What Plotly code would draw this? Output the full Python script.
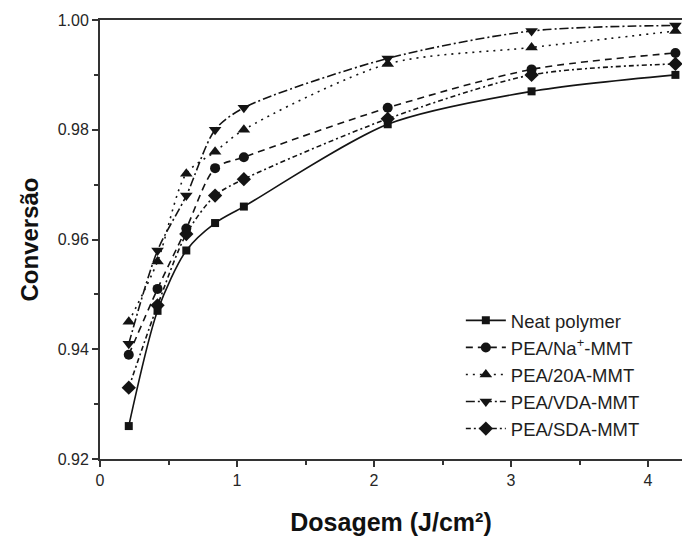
import plotly.graph_objects as go

# Dose (J/cm²) and conversion for each formulation
dose = [0.21, 0.42, 0.63, 0.84, 1.05, 2.1, 3.15, 4.2]
neat_polymer = [0.926, 0.947, 0.958, 0.963, 0.966, 0.981, 0.987, 0.990]
pea_na_mmt = [0.939, 0.951, 0.962, 0.973, 0.975, 0.984, 0.991, 0.994]
pea_20a_mmt = [0.945, 0.956, 0.972, 0.976, 0.980, 0.992, 0.995, 0.998]
pea_vda_mmt = [0.941, 0.958, 0.968, 0.980, 0.984, 0.993, 0.998, 0.999]
pea_sda_mmt = [0.933, 0.948, 0.961, 0.968, 0.971, 0.982, 0.990, 0.992]

series_names = ["Neat polymer", "PEA/Na<sup>+</sup>-MMT", "PEA/20A-MMT",
                "PEA/VDA-MMT", "PEA/SDA-MMT"]
series_values = [neat_polymer, pea_na_mmt, pea_20a_mmt, pea_vda_mmt, pea_sda_mmt]

symbols = ["square", "circle", "triangle-up", "triangle-down", "diamond"]
dashes = ["solid", "7px,5px", "2px,5px", "9px,3px,2px,3px", "5px,3px,2px,3px"]
sizes = [8, 10, 11, 11, 11]

ink = "#141414"

fig = go.Figure()
for name, vals, sym, dash, sz in zip(series_names, series_values, symbols, dashes, sizes):
    fig.add_trace(go.Scatter(
        x=dose, y=vals, name=name, mode="lines+markers",
        line=dict(color=ink, width=1.6, dash=dash, shape="spline", smoothing=0.8),
        marker=dict(symbol=sym, size=sz, color=ink),
    ))

axis_font = dict(family="Liberation Sans, Arial, sans-serif", size=16, color="#262626")

fig.update_layout(
    width=682, height=540,
    margin=dict(l=100, r=0, t=20, b=81),
    paper_bgcolor="white", plot_bgcolor="white",
    font=dict(family="Liberation Sans, Arial, sans-serif", color=ink),
    showlegend=True,
    legend=dict(
        x=0.62, y=0.358, xanchor="left", yanchor="top",
        bgcolor="rgba(0,0,0,0)", borderwidth=0,
        font=dict(size=18.5, color="#1e1e1e"),
        tracegroupgap=0, itemwidth=40,
    ),
    xaxis=dict(
        range=[0, 4.248], tickmode="array", tickvals=[0, 1, 2, 3, 4],
        ticks="outside", ticklen=6, tickwidth=2, tickcolor="#333",
        minor=dict(dtick=0.5, ticks="outside", ticklen=4, tickwidth=2, tickcolor="#333"),
        showline=True, linewidth=2, linecolor="#333", mirror=True,
        showgrid=False, zeroline=False, tickfont=axis_font,
        title=dict(text="<b>Dosagem (J/cm²)</b>", font=dict(size=25, color="#111"), standoff=25),
    ),
    yaxis=dict(
        range=[0.92, 1.0], tickmode="array",
        tickvals=[0.92, 0.94, 0.96, 0.98, 1.00],
        ticktext=["0.92", "0.94", "0.96", "0.98", "1.00"],
        ticks="outside", ticklen=6, tickwidth=2, tickcolor="#333",
        minor=dict(dtick=0.01, ticks="outside", ticklen=4, tickwidth=2, tickcolor="#333"),
        showline=True, linewidth=2, linecolor="#333", mirror=False,
        showgrid=False, zeroline=False, tickfont=axis_font,
        title=dict(text="<b>Conversão</b>", font=dict(size=24, color="#111"), standoff=12),
    ),
)

fig.write_html("out.html")
